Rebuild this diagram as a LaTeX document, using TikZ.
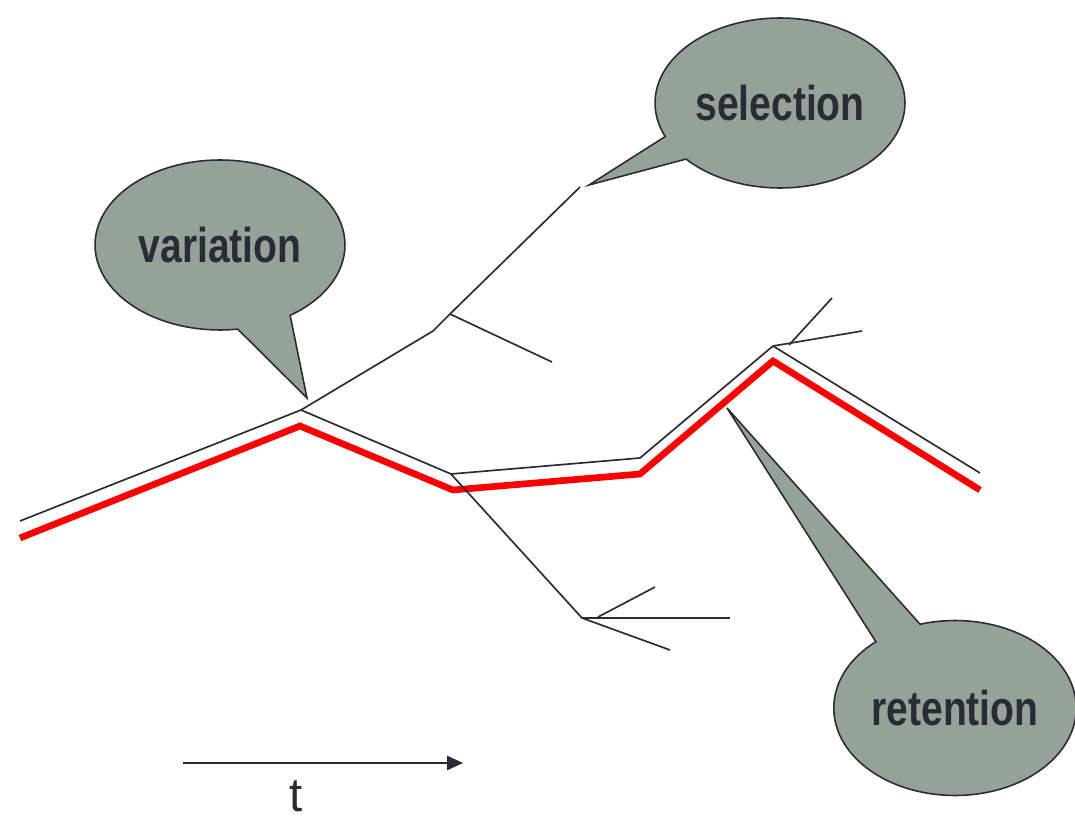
\documentclass[tikz,border=0pt]{standalone}
\usepackage{fontspec}
\setmainfont{Liberation Sans}
\newfontfamily\bubblefont[FakeStretch=0.8]{Liberation Sans}
\usetikzlibrary{shapes.callouts,arrows.meta}
\definecolor{bubblegray}{RGB}{149,162,151}
\definecolor{inkgray}{RGB}{43,43,53}
\begin{document}
\begin{tikzpicture}[x=0.02cm,y=-0.02cm,%
% common options for the lines:
twig/.style = {draw=inkgray, line width=0.95pt},
track/.style = {draw=red, line width=3.8pt},
% common options for the speech bubbles:
bubble/.style = {ellipse callout, draw=inkgray, fill=bubblegray, line width=0.9pt,
            text=inkgray, font=\bubblefont\bfseries\fontsize{27.8}{30}\selectfont,
            minimum width=5cm, minimum height=3.4cm, inner sep=0}]
\useasboundingbox (0,0) rectangle (1075,821);
% black path
\coordinate (b0) at (20,521);
\coordinate (b1) at (301,410);
\coordinate (b2) at (451,474);
\coordinate (b3) at (640,458);
\coordinate (b4) at (773,346);
\coordinate (b5) at (980,473);
% red path
\coordinate (r0) at (20,538);
\coordinate (r1) at (300,426);
\coordinate (r2) at (453,490);
\coordinate (r3) at (640,474);
\coordinate (r4) at (773,361);
\coordinate (r5) at (980,490);
% side branches
\coordinate (u1) at (433,331);
\coordinate (u2) at (450,314);
\coordinate (u3) at (580,187);
\coordinate (u4) at (552,362);
\coordinate (l1) at (582,618);
\coordinate (l2) at (730,618);
\coordinate (l3) at (598,617);
\coordinate (l4) at (655,587);
\coordinate (l5) at (670,650);
\coordinate (k1) at (862,331);
\coordinate (k2) at (789,345);
\coordinate (k3) at (832,298);
% time axis
\coordinate (t0) at (183,763);
\coordinate (t1) at (463,763);
% bubble tips
\coordinate (tipV) at (307,398);
\coordinate (tipS) at (589,185);
\coordinate (tipR) at (727,408);
\draw[twig] (b0) -- (b1) -- (b2) -- (b3) -- (b4) -- (b5);
\draw[track] (r0) -- (r1) -- (r2) -- (r3) -- (r4) -- (r5);
\draw[twig] (b1) -- (u1) -- (u2) -- (u3);
\draw[twig] (u2) -- (u4);
\draw[twig] (b2) -- (l1) -- (l5);
\draw[twig, line width=1.5pt] (l1) -- (l2);
\draw[twig] (l3) -- (l4);
\draw[twig] (b4) -- (k1);
\draw[twig] (k2) -- (k3);
\draw[draw=inkgray, line width=1.1pt, -{Triangle[length=9pt, width=8pt]}] (t0) -- (t1);
\node[text=inkgray, font=\fontsize{27}{30}\selectfont, inner sep=0, anchor=base] (tlabel) at (296,811) {t};
\node[bubble, callout absolute pointer={(tipV)}, callout pointer arc=26] (variation) at (220,245) {variation};
\node[bubble, callout absolute pointer={(tipS)}, callout pointer arc=18] (selection) at (780,103) {selection};
\node[bubble, callout absolute pointer={(tipR)}, callout pointer arc=24, minimum width=4.85cm, minimum height=3.5cm] (retention) at (955,708) {retention};
\end{tikzpicture}
\end{document}
